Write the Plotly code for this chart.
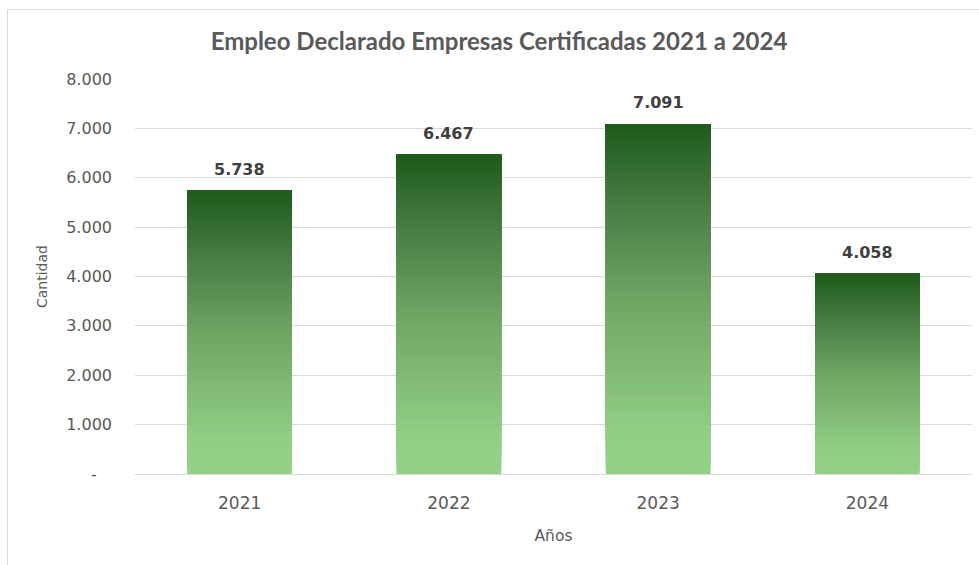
import plotly.graph_objects as go

years = ["2021", "2022", "2023", "2024"]
empleo = [5738, 6467, 7091, 4058]
y_tickvals = [0, 1000, 2000, 3000, 4000, 5000, 6000, 7000, 8000]
y_ticktext = ["-\u00a0\u00a0\u00a0", "1.000", "2.000", "3.000", "4.000", "5.000", "6.000", "7.000", "8.000"]

title_text = "Empleo Declarado Empresas Certificadas 2021 a 2024"

# gradient colour stops: fraction of bar height from bottom -> colour
stops = [(0.0, (0x93, 0xd0, 0x88)), (0.12, (0x92, 0xce, 0x86)), (0.5, (0x6e, 0xa5, 0x63)),
         (0.75, (0x4a, 0x80, 0x45)), (1.0, (0x1f, 0x5a, 0x1b))]


def color_at(f):
    for (f0, c0), (f1, c1) in zip(stops[:-1], stops[1:]):
        if f <= f1:
            t = (f - f0) / (f1 - f0) if f1 > f0 else 0
            return "rgb(%d,%d,%d)" % tuple(round(a + (b - a) * t) for a, b in zip(c0, c1))
    return "rgb(%d,%d,%d)" % stops[-1][1]


N = 80
fig = go.Figure()
for k in range(N):
    f = k / N
    fig.add_trace(go.Bar(
        x=years,
        y=[v * (1 - f) for v in empleo],
        base=[v * f for v in empleo],
        width=0.5,
        marker=dict(color=color_at(f + 0.5 / N), line=dict(width=0)),
        hoverinfo="skip",
        showlegend=False,
    ))

for i, v in enumerate(empleo):
    fig.add_annotation(x=i, y=v, text=f"{v:,}".replace(",", "."), showarrow=False,
                       yanchor="bottom", yshift=10,
                       font=dict(family="DejaVu Sans", size=16, color="#404040", weight="bold"))

fig.add_shape(type="rect", xref="paper", yref="paper", x0=-0.1523, x1=1.05, y0=-0.3, y1=1.176,
              line=dict(color="#d9d9d9", width=1), fillcolor="rgba(0,0,0,0)", layer="below")

fig.update_layout(
    width=979, height=565,
    margin=dict(l=135, r=7, t=79, b=91),
    paper_bgcolor="white", plot_bgcolor="white",
    barmode="overlay",
    title=dict(text="<b>" + title_text + "</b>", x=0.5097, xref="container", y=0.927, yanchor="middle",
               xanchor="center",
               font=dict(family="Lato", size=24, color="#595959")),
    xaxis=dict(type="category", range=[-0.5, 3.5], showgrid=False, showline=False, ticks="",
               ticklabelstandoff=17,
               tickfont=dict(family="DejaVu Sans", size=17, color="#595959"),
               title=dict(text="Años", font=dict(family="DejaVu Sans", size=15.5, color="#595959"), standoff=18)),
    yaxis=dict(range=[0, 8000], tickvals=y_tickvals, ticktext=y_ticktext,
               showgrid=True, gridcolor="#d9d9d9", gridwidth=1, zeroline=True, zerolinecolor="#d9d9d9",
               zerolinewidth=1, showline=False, ticks="", ticklabelstandoff=22,
               tickfont=dict(family="DejaVu Sans", size=16, color="#595959"),
               title=dict(text="Cantidad", font=dict(family="DejaVu Sans", size=14, color="#595959"), standoff=15)),
)

fig.write_html("out.html", config={"displayModeBar": False},
               post_script="document.body.style.margin='0';")
